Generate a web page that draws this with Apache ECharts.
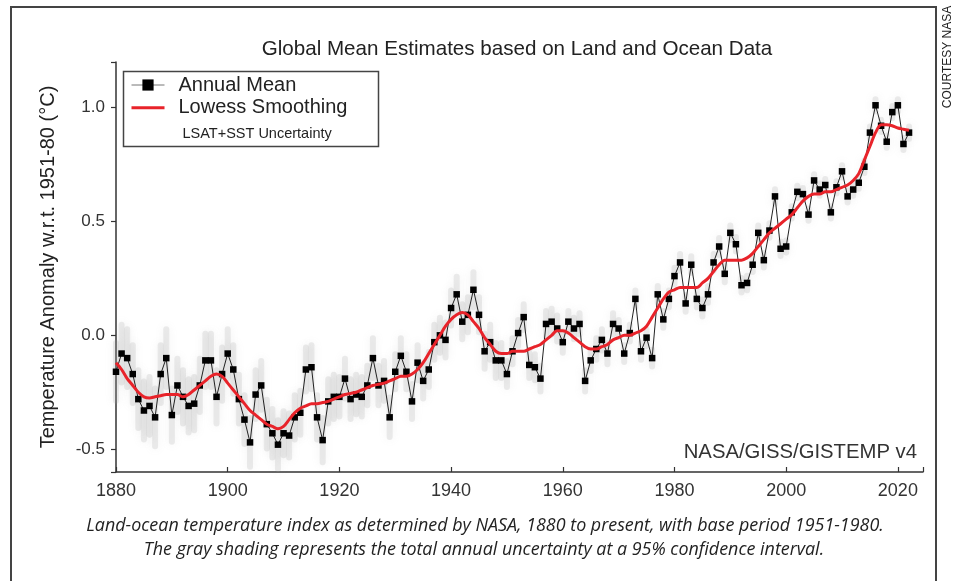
<!DOCTYPE html>
<html>
<head>
<meta charset="utf-8">
<script src="https://cdn.jsdelivr.net/npm/echarts@6/dist/echarts.min.js"></script>
<style>
html,body{margin:0;padding:0;background:#fff;}
#chart{width:953px;height:581px;}
</style>
</head>
<body>
<div id="chart"></div>
<script>
// ---- data ----
const firstYear = 1880;
const annualMean = [
-0.16,-0.08,-0.10,-0.17,-0.28,-0.33,-0.31,-0.36,-0.17,-0.10,
-0.35,-0.22,-0.27,-0.31,-0.30,-0.22,-0.11,-0.11,-0.27,-0.17,
-0.08,-0.15,-0.28,-0.37,-0.47,-0.26,-0.22,-0.39,-0.43,-0.48,
-0.43,-0.44,-0.36,-0.34,-0.15,-0.14,-0.36,-0.46,-0.29,-0.27,
-0.27,-0.19,-0.28,-0.26,-0.27,-0.22,-0.10,-0.22,-0.20,-0.36,
-0.16,-0.09,-0.16,-0.29,-0.12,-0.20,-0.15,-0.03,0.00,-0.02,
0.12,0.18,0.06,0.09,0.20,0.09,-0.07,-0.03,-0.11,-0.11,
-0.17,-0.07,0.01,0.08,-0.13,-0.14,-0.19,0.05,0.06,0.03,
-0.03,0.06,0.03,0.05,-0.20,-0.11,-0.06,-0.02,-0.08,0.05,
0.03,-0.08,0.01,0.16,-0.07,-0.01,-0.10,0.18,0.07,0.16,
0.26,0.32,0.14,0.31,0.16,0.12,0.18,0.32,0.39,0.27,
0.45,0.40,0.22,0.23,0.31,0.45,0.33,0.46,0.61,0.38,
0.39,0.54,0.63,0.62,0.53,0.68,0.64,0.66,0.54,0.65,
0.72,0.61,0.64,0.67,0.74,0.89,1.01,0.92,0.85,0.98,
1.01,0.84,0.89
];
const lowess = [
-0.12,-0.15,-0.19,-0.22,-0.25,-0.27,-0.275,-0.27,-0.265,-0.26,
-0.26,-0.26,-0.27,-0.26,-0.24,-0.22,-0.20,-0.18,-0.17,-0.18,
-0.21,-0.24,-0.27,-0.30,-0.33,-0.35,-0.37,-0.39,-0.40,-0.41,
-0.40,-0.37,-0.34,-0.32,-0.31,-0.30,-0.30,-0.295,-0.29,-0.28,
-0.27,-0.26,-0.255,-0.25,-0.24,-0.23,-0.22,-0.215,-0.21,-0.20,
-0.19,-0.18,-0.18,-0.17,-0.15,-0.12,-0.08,-0.04,0.00,0.04,
0.07,0.09,0.10,0.09,0.06,0.03,-0.01,-0.04,-0.07,-0.08,
-0.08,-0.07,-0.07,-0.07,-0.06,-0.05,-0.04,-0.02,0.00,0.02,
0.02,0.01,-0.01,-0.03,-0.05,-0.06,-0.06,-0.05,-0.04,-0.02,
-0.01,0.00,0.00,0.01,0.02,0.04,0.08,0.12,0.16,0.19,
0.20,0.21,0.21,0.21,0.21,0.23,0.25,0.28,0.31,0.33,
0.33,0.33,0.33,0.34,0.36,0.39,0.42,0.45,0.47,0.49,
0.51,0.53,0.56,0.59,0.61,0.62,0.62,0.63,0.63,0.64,
0.65,0.66,0.68,0.71,0.77,0.83,0.89,0.925,0.925,0.92,
0.91,0.905,0.90
];
// 95% uncertainty half-width per decade (1880s ... 2020s)
const uncertaintyByDecade = [0.14,0.13,0.12,0.11,0.10,0.09,0.09,0.07,0.06,0.05,0.05,0.045,0.04,0.04,0.04];
const xTicks = [1880,1900,1920,1940,1960,1980,2000,2020];
const yTicks = [-0.5,0.0,0.5,1.0];

// ---- build series data ----
const meanData = annualMean.map((v,i)=>[firstYear+i, v]);
const lowessData = lowess.map((v,i)=>[firstYear+i, v]);
const uncData = annualMean.map((v,i)=>{
  const yr = firstYear+i;
  const u = uncertaintyByDecade[Math.floor((yr-firstYear)/10)];
  return [yr, v, u];
});

const FONT = '"Liberation Sans", Arial, sans-serif';
const CAPFONT = 'italic 17.9px "Open Sans", Lato, sans-serif';
const chart = echarts.init(document.getElementById('chart'), null, {renderer:'canvas'});
chart.setOption({
  animation:false,
  backgroundColor:'#fff',
  grid:{left:116, right:30, top:62, bottom:109},
  xAxis:{
    type:'value', min:1880, max:2024.5, interval:20,
    axisLine:{onZero:false, lineStyle:{color:'#333', width:1.5}},
    axisTick:{inside:true, length:5, lineStyle:{color:'#333', width:1.2}},
    axisLabel:{fontFamily:FONT, fontSize:18, color:'#333', margin:10,
      formatter:v=> xTicks.includes(Math.round(v)) && Math.abs(v-Math.round(v))<1e-6 ? String(Math.round(v)) : ''},
    splitLine:{show:false}
  },
  yAxis:{
    type:'value', min:-0.6, max:1.2, splitNumber:3,
    name:'Temperature Anomaly w.r.t. 1951-80 (°C)', nameLocation:'middle', nameGap:58,
    nameTextStyle:{fontFamily:FONT, fontSize:20, color:'#222'},
    axisLine:{show:true, onZero:false, lineStyle:{color:'#333', width:1.5}},
    axisTick:{show:true, inside:false, length:5, lineStyle:{color:'#333', width:1.2}},
    axisLabel:{fontFamily:FONT, fontSize:17, color:'#333', margin:11,
      formatter:v=>{ const t = yTicks.find(k=>Math.abs(k-v)<1e-6); return t===undefined ? '' : t.toFixed(1); }},
    splitLine:{show:false}
  },
  legend:{
    orient:'vertical', left:130, top:74, padding:0, itemGap:0.7,
    itemWidth:33, itemHeight:14,
    textStyle:{fontFamily:FONT, fontSize:20, color:'#222', lineHeight:22, padding:[0,0,0,9]},
    data:[
      {name:'Annual Mean', lineStyle:{color:'#777', width:1}},
      {name:'Lowess Smoothing', itemStyle:{color:'rgba(0,0,0,0)', borderWidth:0}, lineStyle:{color:'#e8232a', width:3}},
      {name:'LSAT+SST Uncertainty', icon:'rect', itemStyle:{color:'rgba(0,0,0,0)', borderWidth:0},
        textStyle:{fontSize:14.5, lineHeight:30, padding:[0,0,0,13]}}
    ],
    selectedMode:false
  },
  series:[
    {
      name:'LSAT+SST Uncertainty', type:'custom', data:uncData, z:1,
      encode:{x:0, y:1},
      renderItem:(params, api)=>{
        const x = api.value(0), v = api.value(1), u = api.value(2);
        const top = api.coord([x, v+u]);
        const bot = api.coord([x, v-u]);
        return {type:'rect', shape:{x:top[0]-3, y:top[1], width:6, height:bot[1]-top[1], r:3},
          style:{fill:'rgba(165,165,165,0.2)', shadowBlur:9, shadowColor:'rgba(150,150,150,0.55)'}};
      }
    },
    {
      name:'Annual Mean', type:'line', data:meanData, z:3,
      symbol:'rect', symbolSize:6.5, showAllSymbol:true,
      itemStyle:{color:'#000'},
      lineStyle:{color:'#222', width:1}
    },
    {
      name:'Lowess Smoothing', type:'line', data:lowessData, z:4,
      symbol:'none', smooth:0.3,
      itemStyle:{color:'#e8232a'},
      lineStyle:{color:'#e8232a', width:3}
    }
  ],
  graphic:[
    {type:'polyline', shape:{points:[[11,600],[11,7],[936,7],[936,600]]}, style:{stroke:'#444', lineWidth:2, fill:null}, silent:true},
    {type:'rect', shape:{x:123.5, y:71.5, width:255, height:75}, style:{stroke:'#444', lineWidth:1.5, fill:null}, silent:true},
    {type:'text', x:517, y:49, style:{text:'Global Mean Estimates based on Land and Ocean Data', font:'20.6px '+FONT, fill:'#222', textAlign:'center', textVerticalAlign:'middle'}},
    {type:'text', x:917, y:452, style:{text:'NASA/GISS/GISTEMP v4', font:'20.3px '+FONT, fill:'#333', textAlign:'right', textVerticalAlign:'middle'}},
    {type:'text', x:485, y:526, style:{text:'Land-ocean temperature index as determined by NASA, 1880 to present, with base period 1951-1980.', font:CAPFONT, fill:'#222', textAlign:'center', textVerticalAlign:'middle'}},
    {type:'text', x:484, y:550, style:{text:'The gray shading represents the total annual uncertainty at a 95% confidence interval.', font:CAPFONT, fill:'#222', textAlign:'center', textVerticalAlign:'middle'}},
    {type:'text', x:948, y:57, rotation:Math.PI/2, style:{text:'COURTESY NASA', font:'12px '+FONT, fill:'#222', textAlign:'center', textVerticalAlign:'middle'}}
  ]
});
</script>
</body>
</html>
